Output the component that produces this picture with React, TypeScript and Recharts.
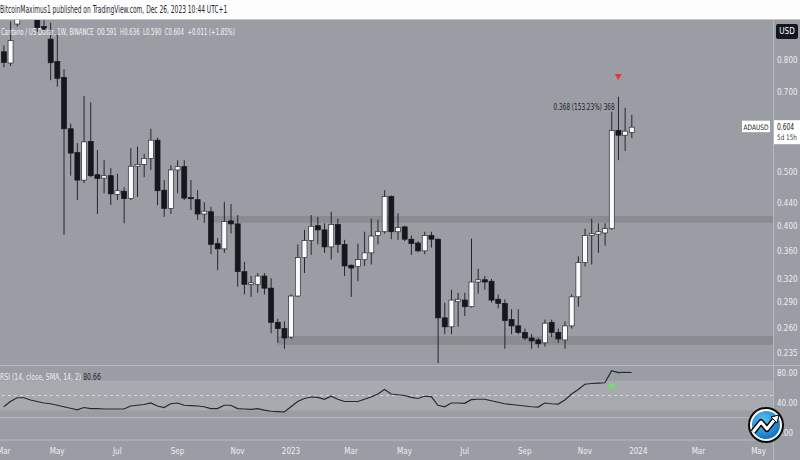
import React from "react"
import {
  ComposedChart,
  LineChart,
  Line,
  Bar,
  XAxis,
  YAxis,
  ReferenceArea,
  ReferenceLine,
  ReferenceDot,
} from "recharts"

// weekly candles ADA/USD, first bar = week of 2022-03-07
const FIRST_WEEK = "2022-03-07"

const opens = [
  0.828, 0.79, 0.93, 1.13, 1.14, 1.0, 0.92, 0.873, 0.795, 0.744,
  0.6, 0.543, 0.484, 0.569, 0.495, 0.488, 0.493, 0.456, 0.462, 0.448,
  0.513, 0.517, 0.53, 0.572, 0.464, 0.43, 0.505, 0.512, 0.45, 0.446,
  0.42, 0.424, 0.371, 0.363, 0.408, 0.403, 0.33, 0.313, 0.313, 0.324,
  0.308, 0.267, 0.26, 0.251, 0.298, 0.35, 0.376, 0.4, 0.393, 0.366,
  0.402, 0.37, 0.339, 0.337, 0.347, 0.357, 0.384, 0.39, 0.452, 0.39,
  0.398, 0.378, 0.372, 0.36, 0.384, 0.378, 0.272, 0.262, 0.291, 0.293,
  0.285, 0.316, 0.319, 0.317, 0.294, 0.289, 0.27, 0.263, 0.256, 0.25,
  0.248, 0.245, 0.267, 0.256, 0.248, 0.263, 0.297, 0.343, 0.384, 0.386,
  0.388, 0.395, 0.596, 0.584, 0.591,
]
const highs = [
  0.85, 0.94, 1.16, 1.24, 1.19, 1.02, 0.945, 0.935, 0.89, 0.77,
  0.613, 0.565, 0.688, 0.67, 0.549, 0.526, 0.509, 0.497, 0.47, 0.553,
  0.557, 0.54, 0.6, 0.578, 0.484, 0.515, 0.526, 0.526, 0.484, 0.464,
  0.441, 0.433, 0.38, 0.442, 0.438, 0.418, 0.344, 0.324, 0.328, 0.328,
  0.321, 0.271, 0.268, 0.3, 0.37, 0.393, 0.418, 0.415, 0.404, 0.424,
  0.412, 0.377, 0.34, 0.371, 0.39, 0.412, 0.41, 0.464, 0.454, 0.421,
  0.4, 0.384, 0.375, 0.39, 0.39, 0.379, 0.29, 0.306, 0.302, 0.302,
  0.379, 0.334, 0.324, 0.32, 0.3, 0.294, 0.282, 0.282, 0.26, 0.254,
  0.25, 0.27, 0.27, 0.26, 0.268, 0.3, 0.352, 0.395, 0.412, 0.404,
  0.404, 0.644, 0.686, 0.655, 0.636,
]
const lows = [
  0.776, 0.78, 0.92, 1.05, 0.96, 0.9, 0.9, 0.735, 0.716, 0.385,
  0.493, 0.445, 0.478, 0.49, 0.42, 0.458, 0.436, 0.445, 0.404, 0.445,
  0.451, 0.49, 0.505, 0.436, 0.415, 0.42, 0.458, 0.445, 0.427, 0.41,
  0.405, 0.355, 0.332, 0.357, 0.387, 0.31, 0.3, 0.297, 0.302, 0.3,
  0.255, 0.245, 0.239, 0.249, 0.297, 0.328, 0.354, 0.37, 0.357, 0.347,
  0.357, 0.324, 0.297, 0.317, 0.338, 0.34, 0.37, 0.387, 0.378, 0.377,
  0.375, 0.354, 0.358, 0.355, 0.365, 0.225, 0.254, 0.254, 0.262, 0.274,
  0.284, 0.301, 0.306, 0.29, 0.283, 0.239, 0.254, 0.254, 0.248, 0.239,
  0.24, 0.241, 0.251, 0.245, 0.239, 0.26, 0.285, 0.337, 0.34, 0.357,
  0.368, 0.393, 0.526, 0.547, 0.577,
]
const closes = [
  0.792, 0.868, 1.13, 1.14, 1.0, 0.916, 0.91, 0.791, 0.741, 0.6,
  0.542, 0.484, 0.568, 0.493, 0.487, 0.493, 0.457, 0.463, 0.448, 0.513,
  0.517, 0.53, 0.572, 0.463, 0.43, 0.505, 0.512, 0.449, 0.448, 0.42,
  0.425, 0.37, 0.363, 0.407, 0.403, 0.33, 0.313, 0.315, 0.324, 0.308,
  0.267, 0.26, 0.25, 0.298, 0.35, 0.376, 0.399, 0.393, 0.366, 0.402,
  0.37, 0.338, 0.335, 0.347, 0.357, 0.383, 0.39, 0.452, 0.39, 0.397,
  0.378, 0.371, 0.36, 0.384, 0.378, 0.272, 0.262, 0.293, 0.294, 0.285,
  0.316, 0.319, 0.316, 0.293, 0.289, 0.269, 0.263, 0.256, 0.25, 0.247,
  0.244, 0.266, 0.256, 0.249, 0.263, 0.297, 0.343, 0.384, 0.387, 0.39,
  0.395, 0.596, 0.584, 0.594, 0.604,
]
const rsiValues = [
  35, 42, 47, 47, 44, 42, 40, 39, 37, 35,
  33, 31, 34, 32.5, 32.5, 32, 32, 32, 32, 36,
  37, 38, 40, 36, 34, 39, 40, 37, 36.5, 36,
  35, 32.5, 32.5, 37, 37, 32.5, 32, 31.5, 32.5, 30.5,
  29, 28.5, 28, 35, 42, 46, 48, 47.5, 45, 49,
  45, 42, 42, 42, 45, 48, 52, 58, 52, 51,
  50, 47.5, 46, 49, 48.5, 37, 35, 40, 40, 39.5,
  44.5, 45, 45, 43, 41, 39, 38, 37, 36, 35,
  34.5, 40, 39, 38.5, 44, 52, 58, 65, 66, 66.5,
  67, 83, 80.5, 81, 80.7,
]

const tickDates = [
  "2022-03-07", "2022-05-02", "2022-07-04", "2022-09-05", "2022-11-07", "2023-01-02",
  "2023-03-06", "2023-05-01", "2023-07-03", "2023-09-04", "2023-11-06", "2024-01-01",
  "2024-03-04", "2024-05-06",
]
const tickLabels = ["Mar", "May", "Jul", "Sep", "Nov", "2023", "Mar", "May", "Jul", "Sep", "Nov", "2024", "Mar", "May"]

const priceTicks = [0.235, 0.26, 0.29, 0.32, 0.36, 0.4, 0.44, 0.5, 0.7, 0.8]
const rsiTicks = [0, 40, 80]

// support / resistance zones (price ranges) and where they start
const upperZone = { from: "2022-10-10", low: 0.405, high: 0.4165 }
const lowerZone = { from: "2022-12-19", low: 0.243, high: 0.252 }

const weekIndex = (d: string) =>
  Math.round((Date.parse(d) - Date.parse(FIRST_WEEK)) / (7 * 24 * 3600 * 1000))

const candles = opens.map((o, i) => ({
  i,
  open: o,
  high: highs[i],
  low: lows[i],
  close: closes[i],
  rsi: rsiValues[i],
}))

const tickIdx = tickDates.map(weekIndex)
const X_DOMAIN = [-0.56, 115.16]

const BG = "#9b9da4"
const ZONE = "#8a8c92"
const SEP = "#b6b8bd"
const AXIS_TEXT = "#eceef1"
const DARK = "#15171d"
const FONT = "'Liberation Sans Narrow', 'DejaVu Sans Condensed', 'Liberation Sans', sans-serif"

const Candle = (props: any) => {
  const { x, y, width, height, payload } = props
  if (!payload || payload.high == null) return null
  const { open, close, high, low } = payload
  const span = Math.log(high) - Math.log(low)
  const toY = (v: number) => (span > 0 ? y + ((Math.log(high) - Math.log(v)) / span) * height : y)
  const cx = x + width / 2
  const up = close >= open
  const top = toY(Math.max(open, close))
  const bot = toY(Math.min(open, close))
  return (
    <g>
      <line x1={cx} x2={cx} y1={y} y2={y + height} stroke="#24262d" strokeWidth={1} />
      <rect
        x={x}
        y={top}
        width={width}
        height={Math.max(bot - top, 1.2)}
        fill={up ? "#fafafa" : DARK}
        stroke={up ? "#2a2c33" : DARK}
        strokeWidth={0.7}
      />
    </g>
  )
}

const PriceTag = (props: any) => {
  const { viewBox } = props
  if (!viewBox) return null
  const y = viewBox.y
  const right = viewBox.x + viewBox.width
  return (
    <g fontFamily={FONT}>
      <rect x={right - 31} y={y - 6.5} width={28} height={11.5} fill="#ffffff" />
      <text x={right - 29.5} y={y + 2.5} fontSize={7.5} fill="#131722" textLength={25} lengthAdjust="spacingAndGlyphs">
        ADAUSD
      </text>
      <rect x={right} y={y - 7} width={27} height={24} fill="#ffffff" />
      <text x={right + 4} y={y + 3} fontSize={8} fill="#131722" textLength={17} lengthAdjust="spacingAndGlyphs">
        0.604
      </text>
      <text x={right + 4} y={y + 13} fontSize={7.5} fill="#3a3d45" textLength={20} lengthAdjust="spacingAndGlyphs">
        5d 15h
      </text>
    </g>
  )
}

const SellMark = (props: any) => {
  const { cx, cy } = props
  return <path d={`M${cx - 3.5},${cy - 3} L${cx + 3.5},${cy - 3} L${cx},${cy + 3} Z`} fill="#e8343c" />
}

const MeasureNote = (props: any) => {
  const { cx, cy } = props
  return (
    <text
      x={cx - 58}
      y={cy + 3}
      fontSize={8.5}
      fill="#1c1e24"
      fontFamily={FONT}
      textLength={61}
      lengthAdjust="spacingAndGlyphs"
    >
      0.368 (153.23%) 368
    </text>
  )
}

const Logo = () => (
  <svg width={40} height={40} style={{ position: "absolute", left: 746, top: 405 }}>
    <defs>
      <radialGradient id="lg" cx="40%" cy="35%" r="70%">
        <stop offset="0%" stopColor="#5cc4f5" />
        <stop offset="100%" stopColor="#0b6fc0" />
      </radialGradient>
    </defs>
    <circle cx={20} cy={20} r={18} fill="#0a0a0a" />
    <circle cx={20} cy={20} r={16} fill="#ffffff" />
    <circle cx={20} cy={20} r={14} fill="url(#lg)" />
    <path d="M7,27 L15,17 L21,24 L29,14" stroke="#000" strokeWidth={6} fill="none" strokeLinejoin="round" />
    <path d="M7,27 L15,17 L21,24 L29,14" stroke="#fff" strokeWidth={3} fill="none" strokeLinejoin="round" />
    <path d="M25,12 L33,10 L31,18 Z" fill="#fff" stroke="#000" strokeWidth={1} />
  </svg>
)

const squeeze = (sx: number): React.CSSProperties => ({
  transform: `scaleX(${sx})`,
  transformOrigin: "0 0",
  whiteSpace: "nowrap",
})

export default function App() {
  return (
    <div
      style={{
        position: "absolute",
        left: 0,
        top: 0,
        width: 800,
        height: 460,
        background: BG,
        overflow: "hidden",
        fontFamily: FONT,
      }}
    >
      <div style={{ position: "absolute", left: 0, top: 20 }}>
        <ComposedChart width={800} height={345} data={candles} margin={{ top: 0, right: 0, bottom: 0, left: 0 }}>
          <XAxis type="number" dataKey="i" domain={X_DOMAIN} allowDataOverflow hide />
          <YAxis
            orientation="right"
            width={27}
            type="number"
            scale="log"
            domain={[0.2233, 0.9458]}
            allowDataOverflow
            ticks={priceTicks}
            tickFormatter={(v: number) => v.toFixed(3)}
            tick={{ fill: AXIS_TEXT, fontSize: 8, fontFamily: FONT }}
            axisLine={false}
            tickLine={false}
            tickSize={2}
          />
          <ReferenceArea
            x1={weekIndex(upperZone.from)}
            x2={X_DOMAIN[1]}
            y1={upperZone.low}
            y2={upperZone.high}
            fill={ZONE}
            fillOpacity={1}
            stroke="none"
            ifOverflow="hidden"
          />
          <ReferenceArea
            x1={weekIndex(lowerZone.from)}
            x2={X_DOMAIN[1]}
            y1={lowerZone.low}
            y2={lowerZone.high}
            fill={ZONE}
            fillOpacity={1}
            stroke="none"
            ifOverflow="hidden"
          />
          <Bar
            dataKey={(d: any) => [d.low, d.high]}
            shape={<Candle />}
            barSize={5}
            isAnimationActive={false}
          />
          <ReferenceDot x={92} y={0.745} r={4} shape={<SellMark />} ifOverflow="visible" />
          <ReferenceDot x={91} y={0.657} r={1} shape={<MeasureNote />} ifOverflow="visible" />
          <ReferenceLine y={closes[closes.length - 1]} stroke="none" label={<PriceTag />} />
        </ComposedChart>
      </div>

      <div style={{ position: "absolute", left: 0, top: 365 }}>
        <LineChart width={800} height={95} data={candles} margin={{ top: 0, right: 0, bottom: 0, left: 0 }}>
          <XAxis
            type="number"
            dataKey="i"
            domain={X_DOMAIN}
            allowDataOverflow
            ticks={tickIdx}
            tickFormatter={(v: number) => tickLabels[tickIdx.indexOf(v)] ?? ""}
            interval={0}
            height={20}
            axisLine={{ stroke: SEP }}
            tickLine={false}
            tick={{ fill: AXIS_TEXT, fontSize: 8, fontFamily: FONT }}
          />
          <YAxis
            orientation="right"
            width={27}
            domain={[-9.33, 90.67]}
            allowDataOverflow
            ticks={rsiTicks}
            tickFormatter={(v: number) => v.toFixed(2)}
            tick={{ fill: AXIS_TEXT, fontSize: 8, fontFamily: FONT }}
            axisLine={false}
            tickLine={false}
            tickSize={2}
          />
          <ReferenceArea y1={30} y2={70} fill="#a8aab0" fillOpacity={1} stroke="none" />
          <ReferenceLine y={50} stroke="#d4d6da" strokeDasharray="3 3" />
          <Line
            type="linear"
            dataKey="rsi"
            stroke="#262830"
            strokeWidth={1.2}
            dot={false}
            isAnimationActive={false}
          />
          <ReferenceDot x={91} y={62.7} r={3} fill="#6ee06a" stroke="none" />
        </LineChart>
      </div>

      {/* pane separators */}
      <div style={{ position: "absolute", left: 0, top: 365, width: 800, height: 1, background: SEP }} />
      <div style={{ position: "absolute", left: 0, top: 417, width: 773, height: 1, background: SEP }} />
      <div style={{ position: "absolute", left: 773, top: 20, width: 1, height: 440, background: SEP }} />

      {/* header */}
      <div
        style={{
          position: "absolute",
          left: 0,
          top: 0,
          width: 800,
          height: 20,
          background: "#fdfdfd",
          borderBottom: "1px solid #c8c9cc",
          boxSizing: "border-box",
        }}
      >
        <div style={{ position: "absolute", left: 0, top: 4, fontSize: 10, color: "#26282e", ...squeeze(0.66) }}>
          BitcoinMaximus1 published on TradingView.com, Dec 26, 2023 10:44 UTC+1
        </div>
      </div>

      <div style={{ position: "absolute", left: 1, top: 26, fontSize: 9.5, color: "#f4f5f7", ...squeeze(0.63) }}>
        Cardano / US Dollar, 1W, BINANCE&nbsp;&nbsp;O0.591&nbsp;&nbsp;H0.636&nbsp;&nbsp;L0.590&nbsp;&nbsp;C0.604&nbsp;&nbsp;+0.011 (+1.85%)
      </div>

      <div style={{ position: "absolute", left: 0, top: 371, fontSize: 9.5, ...squeeze(0.72) }}>
        <span style={{ color: "#eef0f2" }}>RSI (14, close, SMA, 14, 2)</span>
        <span style={{ color: "#1c1e24" }}>&nbsp;80.66</span>
      </div>

      <div
        style={{
          position: "absolute",
          left: 776,
          top: 24,
          width: 22,
          height: 15,
          background: "#131722",
          borderRadius: 2,
          color: "#fff",
          fontSize: 8,
          lineHeight: "15px",
          textAlign: "center",
        }}
      >
        USD
      </div>

      <Logo />
    </div>
  )
}
